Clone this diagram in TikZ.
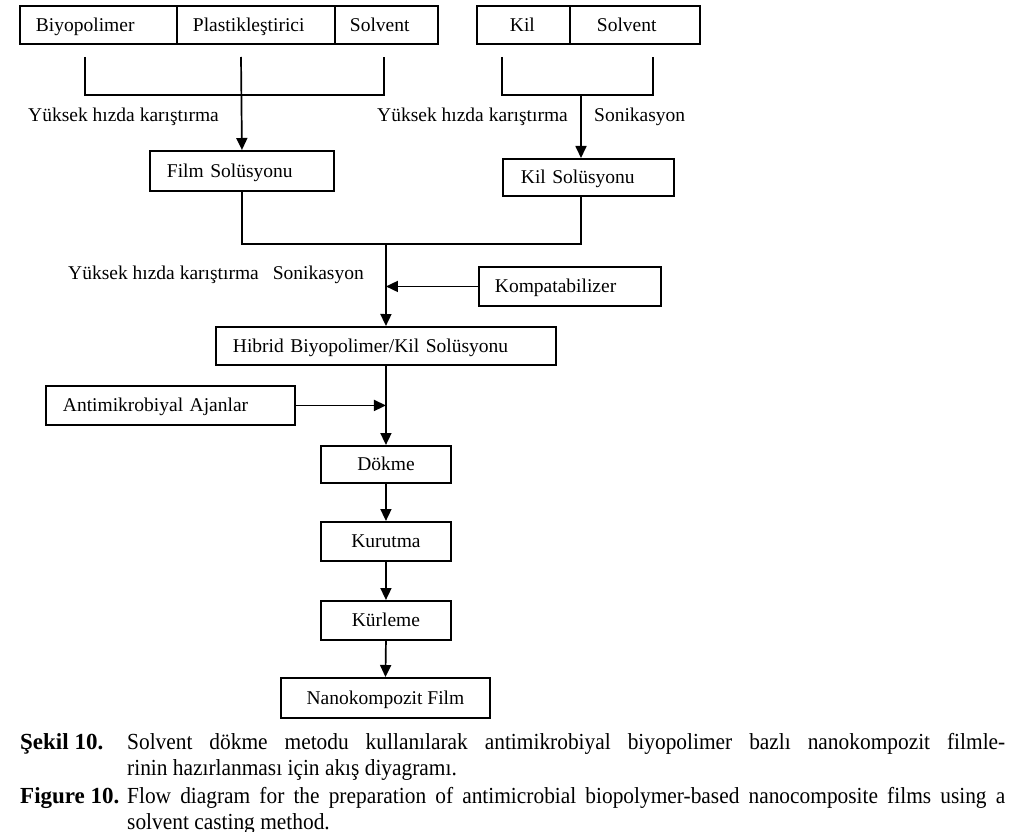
\documentclass[tikz,border=0pt]{standalone}
\usepackage{fontspec}
\setmainfont{Liberation Serif}
\newfontfamily\capfont[FakeStretch=0.93]{Liberation Serif}
\usetikzlibrary{arrows.meta}
\newcommand\capfs{\fontsize{23}{26}\selectfont\hyphenpenalty=10000\tolerance=10000}
\tikzset{
  box/.style={draw, line width=1.9pt, anchor=north west, inner ysep=0pt, minimum height=38pt,
    text height=15.5pt, text depth=2.5pt, align=left},
  lbl/.style={anchor=west, inner sep=0pt},
  flow/.style={line width=1.7pt},
  arr/.style={flow, -{Triangle[length=12pt,width=11pt]}}
}
\begin{document}
\begin{tikzpicture}[x=1pt, y=-1pt, font=\fontsize{19.5}{23}\selectfont]
  \useasboundingbox (0,0) rectangle (1018,832);
  \node[box, inner xsep=16pt, text width=125pt] (bio) at (19,5) {Biyopolimer};
  \node[box, inner xsep=16pt, text width=126pt] (plast) at (176,5) {Plastikleştirici};
  \node[box, inner xsep=15pt, text width=73pt] (solvA) at (334,5) {Solvent};
  \node[box, inner xsep=33pt, text width=27pt] (kil) at (476,5) {Kil};
  \node[box, inner xsep=27pt, text width=76pt] (solvB) at (569,5) {Solvent};
  \node[box, minimum height=40pt, inner xsep=17pt, text width=150pt] (film) at (149,150) {Film Solüsyonu};
  \node[box, minimum height=37pt, inner xsep=18pt, text width=135pt] (kilsol) at (502,158) {Kil Solüsyonu};
  \node[box, minimum height=39pt, inner xsep=16pt, text width=150pt] (komp) at (478,266) {Kompatabilizer};
  \node[box, inner xsep=17pt, text width=306pt] (hibrid) at (215,326) {Hibrid Biyopolimer/Kil Solüsyonu};
  \node[box, minimum height=39pt, inner xsep=17pt, text width=215pt] (anti) at (45,385) {Antimikrobiyal Ajanlar};
  \node[box, minimum width=130pt, minimum height=37pt, align=center] (dokme) at (320,445) {Dökme};
  \node[box, minimum width=130pt, minimum height=39pt, align=center] (kurutma) at (320,521) {Kurutma};
  \node[box, minimum width=130pt, minimum height=39pt, align=center] (kurleme) at (320,600) {Kürleme};
  \node[box, minimum width=209pt, minimum height=40pt, align=center] (nano) at (280,677) {Nanokompozit Film};

  \node[lbl] (mix1) at (28,117) {Yüksek hızda karıştırma};
  \node[lbl] (mix2) at (377,117) {Yüksek hızda karıştırma};
  \node[lbl] (son1) at (594,117) {Sonikasyon};
  \node[lbl] (mix3) at (68,275) {Yüksek hızda karıştırma\hspace{14pt}Sonikasyon};

  \coordinate (bl) at (85,57);
  \coordinate (bm) at (241,57);
  \coordinate (br) at (384,57);
  \coordinate (kl) at (502,57);
  \coordinate (km) at (581,95);
  \coordinate (kr) at (653,57);
  \coordinate (mg) at (386,244);
  \draw[flow] (bl) -- (85,95) -- (384,95) -- (br);
  \draw[arr] (bm) -- (film.north);
  \draw[flow] (kl) -- (502,95) -- (653,95) -- (kr);
  \draw[arr] (km) -- (kilsol.north -| km);
  \draw[flow] (film.south) -- (film.south |- mg) -- (km |- mg) -- (kilsol.south -| km);
  \draw[arr] (mg) -- (hibrid.north);
  \draw[arr] (komp.west) -- (komp.west -| hibrid.north);
  \draw[arr] (anti.east) -- (anti.east -| hibrid.south);
  \draw[arr] (hibrid.south) -- (dokme.north);
  \foreach \a/\b in {dokme/kurutma, kurutma/kurleme, kurleme/nano} {
    \draw[arr] (\a.south) -- (\b.north);
  }

  \node[anchor=base west, inner sep=0pt, font=\capfs\bfseries] (sekil) at (20,749) {Şekil 10.};
  \node[anchor=base west, inner sep=0pt, text width=878pt, align=justify, font=\capfs\capfont] (sekiltxt) at (127,749)
    {Solvent dökme metodu kullanılarak antimikrobiyal biyopolimer bazlı nanokompozit filmle-\linebreak rinin hazırlanması için akış diyagramı.};
  \node[anchor=base west, inner sep=0pt, font=\capfs\bfseries] (fig) at (20,803) {Figure 10.};
  \node[anchor=base west, inner sep=0pt, text width=878pt, align=justify, font=\capfs\capfont] (figtxt) at (127,803)
    {Flow diagram for the preparation of antimicrobial biopolymer-based nanocomposite films using a\linebreak solvent casting method.};
\end{tikzpicture}
\end{document}
